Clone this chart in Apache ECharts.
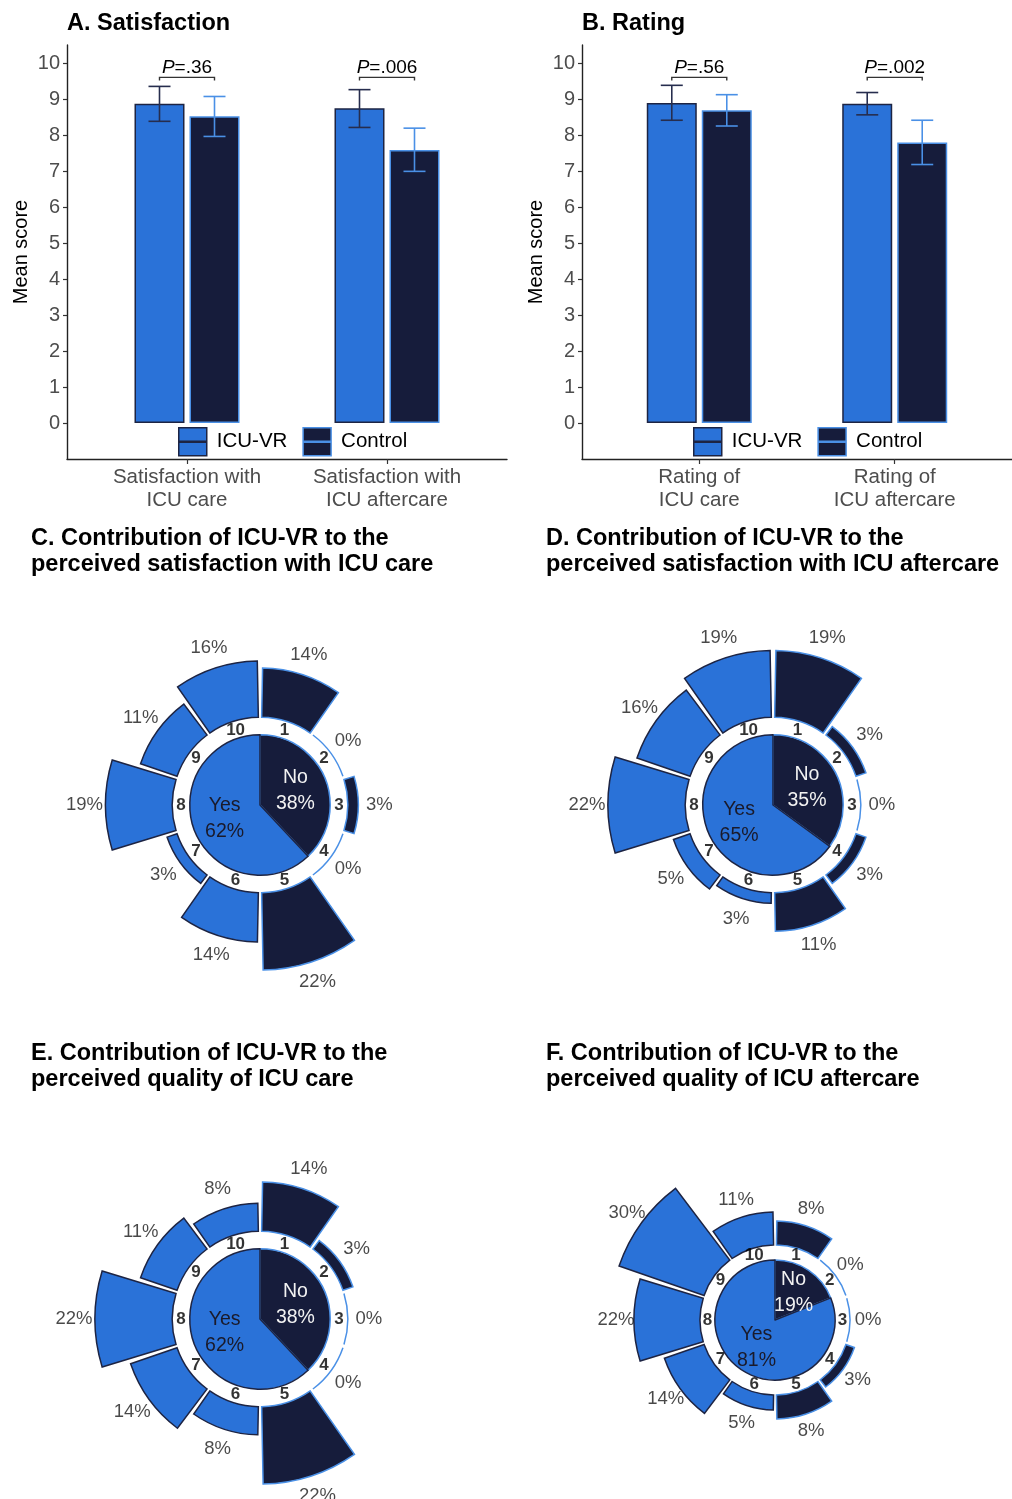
<!DOCTYPE html>
<html>
<head>
<meta charset="utf-8">
<script src="https://cdn.jsdelivr.net/npm/echarts@6/dist/echarts.min.js"></script>
<style>
  html, body { margin: 0; padding: 0; background: #fff; }
  #chart { width: 1012px; height: 1499px; }
</style>
</head>
<body>
<div id="chart"></div>
<script>
// ---- Panels A and B: mean scores with error bars ----
const catsSatisfaction = ['Satisfaction with\nICU care', 'Satisfaction with\nICU aftercare'];
const catsRating = ['Rating of\nICU care', 'Rating of\nICU aftercare'];

const satVrMean = [8.87, 8.74];
const satVrLow = [8.38, 8.21];
const satVrHigh = [9.35, 9.26];
const satCtrlMean = [8.52, 7.58];
const satCtrlLow = [7.96, 6.99];
const satCtrlHigh = [9.07, 8.19];
const satP = ['.36', '.006'];

const rateVrMean = [8.89, 8.87];
const rateVrLow = [8.41, 8.56];
const rateVrHigh = [9.38, 9.18];
const rateCtrlMean = [8.69, 7.79];
const rateCtrlLow = [8.25, 7.18];
const rateCtrlHigh = [9.12, 8.41];
const rateP = ['.56', '.002'];

const yTicks = [0, 1, 2, 3, 4, 5, 6, 7, 8, 9, 10];

// ---- Panels C-F: share per score (%) and Yes/No split (%) ----
const scoreCats = ['1', '2', '3', '4', '5', '6', '7', '8', '9', '10'];
const pctC = [14, 0, 3, 0, 22, 14, 3, 19, 11, 16];
const pctD = [19, 3, 0, 3, 11, 3, 5, 22, 16, 19];
const pctE = [14, 3, 0, 0, 22, 8, 14, 22, 11, 8];
const pctF = [8, 0, 0, 3, 8, 5, 14, 22, 30, 11];
const yesNoNames = ['No', 'Yes'];
const yesNoC = [38, 62];
const yesNoD = [35, 65];
const yesNoE = [38, 62];
const yesNoF = [19, 81];

// ---- Styling ----
const VR_FILL = '#2A72D8';
const VR_BORDER = '#1D2443';
const CTRL_FILL = '#161C3B';
const CTRL_BORDER = '#4A90E6';
const FONT = '"Liberation Sans", Arial, Helvetica, sans-serif';

const BAR_W = 50;
const BAR_GAP = 5;
const HALF_OFF = (BAR_W + BAR_GAP) / 2;
const BRACKET_Y = 9.6;

const LEGEND_ICON = 'path://M0,0H28V13.5H0Z M0,14.5H28V28H0Z';

const chart = echarts.init(document.getElementById('chart'), null, { renderer: 'canvas' });

function errRender(side, color) {
  return function (params, api) {
    const x = api.value(0);
    const pLo = api.coord([x, api.value(1)]);
    const pHi = api.coord([x, api.value(2)]);
    const cx = pLo[0] + side * HALF_OFF;
    const cap = 11;
    const st = { stroke: color, lineWidth: 1.6 };
    return {
      type: 'group',
      children: [
        { type: 'line', shape: { x1: cx, y1: pLo[1], x2: cx, y2: pHi[1] }, style: st },
        { type: 'line', shape: { x1: cx - cap, y1: pLo[1], x2: cx + cap, y2: pLo[1] }, style: st },
        { type: 'line', shape: { x1: cx - cap, y1: pHi[1], x2: cx + cap, y2: pHi[1] }, style: st }
      ]
    };
  };
}

function pRender(labels) {
  return function (params, api) {
    const p = api.coord([api.value(0), api.value(1)]);
    const x1 = p[0] - HALF_OFF, x2 = p[0] + HALF_OFF, y = p[1];
    return {
      type: 'group',
      children: [
        {
          type: 'polyline',
          shape: { points: [[x1, y + 3], [x1, y], [x2, y], [x2, y + 3]] },
          style: { stroke: '#333', lineWidth: 1.4, fill: null }
        },
        {
          type: 'text',
          x: p[0], y: y,
          style: {
            text: '{i|P}{n|=' + labels[params.dataIndex] + '}',
            align: 'center', verticalAlign: 'bottom',
            rich: {
              i: { fontStyle: 'italic', fontSize: 19, fontFamily: FONT, fill: '#000' },
              n: { fontSize: 19, fontFamily: FONT, fill: '#000' }
            }
          }
        }
      ]
    };
  };
}

const barPanels = [
  { cats: catsSatisfaction, vrM: satVrMean, vrL: satVrLow, vrH: satVrHigh,
    cM: satCtrlMean, cL: satCtrlLow, cH: satCtrlHigh, p: satP, left: 67 },
  { cats: catsRating, vrM: rateVrMean, vrL: rateVrLow, vrH: rateVrHigh,
    cM: rateCtrlMean, cL: rateCtrlLow, cH: rateCtrlHigh, p: rateP, left: 582 }
];

const grid = [], xAxis = [], yAxis = [], series = [], legend = [];

barPanels.forEach((bp, g) => {
  grid.push({ left: bp.left, top: 45, width: 440, height: 414 });
  xAxis.push({
    gridIndex: g, type: 'value', min: 0.4, max: 2.6,
    splitLine: { show: false },
    axisLine: { onZero: false, lineStyle: { color: '#222', width: 1.4 } },
    axisTick: { customValues: [1, 2], length: 5, lineStyle: { color: '#333', width: 1.2 } },
    axisLabel: {
      customValues: [1, 2], formatter: v => bp.cats[Math.round(v) - 1] || '',
      color: '#4d4d4d', fontSize: 20.5, lineHeight: 23, margin: 7, fontFamily: FONT
    }
  });
  yAxis.push({
    gridIndex: g, type: 'value', min: -1, max: 10.5, interval: 1,
    splitLine: { show: false },
    axisLine: { show: true, onZero: false, lineStyle: { color: '#222', width: 1.4 } },
    axisTick: { show: true, customValues: yTicks, length: 4, lineStyle: { color: '#333', width: 1.2 } },
    axisLabel: { customValues: yTicks, color: '#4d4d4d', fontSize: 20, margin: 7, fontFamily: FONT },
    name: 'Mean score', nameLocation: 'middle', nameGap: 36, nameRotate: 90,
    nameTextStyle: { fontSize: 20, color: '#000', fontFamily: FONT }
  });
  series.push({
    type: 'bar', name: 'ICU-VR', xAxisIndex: g, yAxisIndex: g,
    data: bp.vrM.map((v, i) => [i + 1, v]),
    barWidth: BAR_W, barGap: (BAR_GAP / BAR_W * 100) + '%',
    itemStyle: { color: VR_FILL, borderColor: VR_BORDER, borderWidth: 1.5 },
    emphasis: { disabled: true }
  });
  series.push({
    type: 'bar', name: 'Control', xAxisIndex: g, yAxisIndex: g,
    data: bp.cM.map((v, i) => [i + 1, v]),
    barWidth: BAR_W, barGap: (BAR_GAP / BAR_W * 100) + '%',
    itemStyle: { color: CTRL_FILL, borderColor: CTRL_BORDER, borderWidth: 1.5 },
    emphasis: { disabled: true }
  });
  series.push({
    type: 'custom', xAxisIndex: g, yAxisIndex: g, z: 5, silent: true,
    data: bp.vrL.map((l, i) => [i + 1, l, bp.vrH[i]]),
    renderItem: errRender(-1, '#262D4E')
  });
  series.push({
    type: 'custom', xAxisIndex: g, yAxisIndex: g, z: 5, silent: true,
    data: bp.cL.map((l, i) => [i + 1, l, bp.cH[i]]),
    renderItem: errRender(1, CTRL_BORDER)
  });
  series.push({
    type: 'custom', xAxisIndex: g, yAxisIndex: g, z: 5, silent: true,
    data: bp.p.map((_, i) => [i + 1, BRACKET_Y]),
    renderItem: pRender(bp.p)
  });
  legend.push({
    left: bp.left + 111, top: 427, orient: 'horizontal', padding: 0,
    itemWidth: 28, itemHeight: 28, itemGap: 15, selectedMode: false,
    textStyle: { fontSize: 20.5, color: '#000', fontFamily: FONT, padding: [0, 0, 0, 5] },
    data: [
      { name: 'ICU-VR', icon: LEGEND_ICON,
        itemStyle: { color: VR_FILL, borderColor: VR_BORDER, borderWidth: 1.5 } },
      { name: 'Control', icon: LEGEND_ICON,
        itemStyle: { color: CTRL_FILL, borderColor: CTRL_BORDER, borderWidth: 1.5 } }
    ]
  });
});

// ---- Polar panels ----
const OUTER_R = 165;    // pixel radius reached by the largest bar
const R_MIN = -25;      // radial axis start, leaves room for the pie
const PIE_EDGE = -5;    // radial value of the pie's rim
const NUM_POS = -2.5;   // radial value of the score numbers
const PCT_OFF = 6;      // label distance beyond a bar's end
const R_HEAD = 12;      // spare radial room so outer labels stay inside the axis

const polarPanels = [
  { vals: pctC, yn: yesNoC, center: [260, 805] },
  { vals: pctD, yn: yesNoD, center: [773, 805] },
  { vals: pctE, yn: yesNoE, center: [260, 1319] },
  { vals: pctF, yn: yesNoF, center: [775, 1320] }
];

const polar = [], angleAxis = [], radiusAxis = [];

polarPanels.forEach((pp, i) => {
  const vmax = Math.max(...pp.vals);
  const pxPerUnit = OUTER_R / (vmax - R_MIN);
  polar.push({ center: pp.center, radius: pxPerUnit * (vmax + R_HEAD - R_MIN) });
  angleAxis.push({
    polarIndex: i, type: 'category', data: scoreCats, startAngle: 90, clockwise: true,
    axisLine: { show: false }, axisTick: { show: false }, axisLabel: { show: false },
    splitLine: { show: false }
  });
  radiusAxis.push({
    polarIndex: i, type: 'value', min: R_MIN, max: vmax + R_HEAD,
    axisLine: { show: false }, axisTick: { show: false }, axisLabel: { show: false },
    splitLine: { show: false }, splitArea: { show: false }
  });
  series.push({
    type: 'bar', coordinateSystem: 'polar', polarIndex: i, barCategoryGap: '6%',
    silent: true,
    data: pp.vals.map((v, k) => ({
      value: v,
      itemStyle: k < 5
        ? { color: CTRL_FILL, borderColor: CTRL_BORDER, borderWidth: 1.5 }
        : { color: VR_FILL, borderColor: VR_BORDER, borderWidth: 1.5 }
    }))
  });
  series.push({
    type: 'scatter', coordinateSystem: 'polar', polarIndex: i, symbolSize: 0, silent: true,
    data: pp.vals.map((v, k) => [v + PCT_OFF, k]),
    label: {
      show: true, position: 'inside', color: '#1a1a1a', fontSize: 18.5, fontFamily: FONT,
      formatter: p => pp.vals[p.dataIndex] + '%'
    }
  });
  series.push({
    type: 'scatter', coordinateSystem: 'polar', polarIndex: i, symbolSize: 0, silent: true,
    data: scoreCats.map((c, k) => [NUM_POS, k]),
    label: {
      show: true, position: 'inside', color: '#000', fontSize: 17, fontWeight: 'bold',
      fontFamily: FONT, formatter: p => scoreCats[p.dataIndex]
    }
  });
  const pieR = pxPerUnit * (PIE_EDGE - R_MIN);
  series.push({
    type: 'pie', center: pp.center, radius: [0, pieR], startAngle: 90, clockwise: true,
    silent: true, z: 3,
    emphasis: { disabled: true },
    labelLine: { show: false },
    data: yesNoNames.map((n, k) => ({
      name: n, value: pp.yn[k],
      itemStyle: k === 0
        ? { color: CTRL_FILL, borderColor: CTRL_BORDER, borderWidth: 1.5 }
        : { color: VR_FILL, borderColor: VR_BORDER, borderWidth: 1.5 },
      label: { color: k === 0 ? '#f2f2f2' : '#1a1a2a' }
    })),
    label: {
      show: true, position: 'inside', fontSize: 19.5, lineHeight: 26, fontFamily: FONT,
      formatter: p => p.name + '\n' + p.value + '%'
    }
  });
});

const titleStyle = { fontSize: 23.5, fontWeight: 'bold', color: '#000', fontFamily: FONT, lineHeight: 26 };
const title = [
  { text: 'A. Satisfaction', left: 67, top: 11, textStyle: titleStyle },
  { text: 'B. Rating', left: 582, top: 11, textStyle: titleStyle },
  { text: 'C. Contribution of ICU-VR to the\nperceived satisfaction with ICU care', left: 31, top: 526, textStyle: titleStyle },
  { text: 'D. Contribution of ICU-VR to the\nperceived satisfaction with ICU aftercare', left: 546, top: 526, textStyle: titleStyle },
  { text: 'E. Contribution of ICU-VR to the\nperceived quality of ICU care', left: 31, top: 1041, textStyle: titleStyle },
  { text: 'F. Contribution of ICU-VR to the\nperceived quality of ICU aftercare', left: 546, top: 1041, textStyle: titleStyle }
].map(t => Object.assign({ padding: 0 }, t));

chart.setOption({
  animation: false,
  backgroundColor: '#fff',
  textStyle: { fontFamily: FONT },
  title, legend, grid, xAxis, yAxis, polar, angleAxis, radiusAxis, series
});
</script>
</body>
</html>
